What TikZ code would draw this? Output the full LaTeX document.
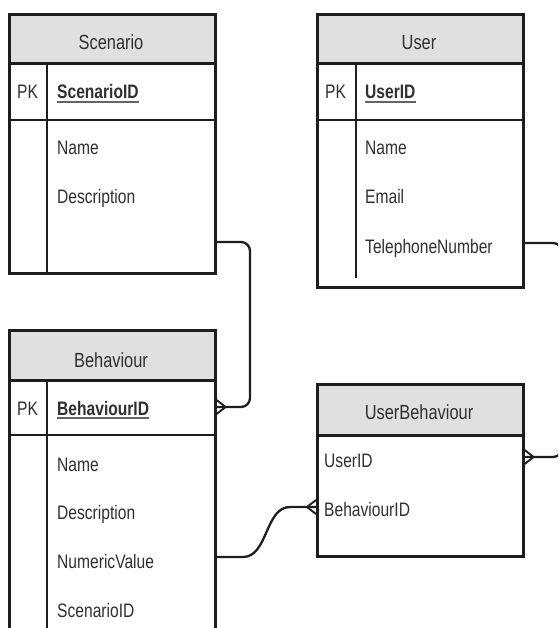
\documentclass[tikz,border=0pt]{standalone}
\usepackage{fontspec}
\setmainfont{Liberation Sans}[FakeStretch=0.8]
\usetikzlibrary{calc}
\definecolor{linec}{HTML}{1E1E1E}
\definecolor{hdrfill}{HTML}{E0E0E0}
\definecolor{txt}{HTML}{303030}
\tikzset{
  box/.style={draw=linec, line width=2.6pt, fill=white, anchor=north west, inner sep=0pt},
  hdrbox/.style={draw=linec, line width=2.6pt, fill=hdrfill, anchor=north west, inner sep=0pt},
  sep/.style={draw=linec, line width=1.7pt},
  title/.style={font=\fontsize{20.5}{23}\selectfont, text=txt, anchor=base, inner sep=0pt},
  fld/.style={font=\fontsize{19.5}{22}\selectfont, text=txt, anchor=base west, inner sep=0pt},
  keyfld/.style={font=\fontsize{19.5}{22}\selectfont\bfseries, text=txt, anchor=base west, inner sep=0pt},
  uline/.style={draw=txt!75, line width=1.2pt},
  conn/.style={draw=linec, line width=2.3pt},
  crow/.style={draw=linec, line width=1.9pt},
  crowR/.pic={\draw[crow] (9,0) -- (0,-7) (9,0) -- (0,7);},
  crowL/.pic={\draw[crow] (-9,0) -- (0,-7) (-9,0) -- (0,7);}
}
\begin{document}
\begin{tikzpicture}[x=1pt,y=-1pt]
\useasboundingbox (0,0) rectangle (558,628);
\clip (0,0) rectangle (558,628);

% ---------- Scenario ----------
\node[box, minimum width=206pt, minimum height=259pt] (scen) at (8,13) {};
\node[hdrbox, minimum width=206pt, minimum height=49pt] (scenH) at (8,13) {};
\draw[sep] (8,120) -- (214,120);
\draw[sep] (47,62) -- (47,272);
\node[title] (scenT) at (111,50) {Scenario};
\node[fld] (scenPK) at (17,99) {PK};
\node[keyfld] (scenID) at (57,99) {ScenarioID};
\draw[uline] ([yshift=-3pt]scenID.base west) -- ([yshift=-3pt]scenID.base east);
\node[fld] (scenName) at (57,155) {Name};
\node[fld] (scenDesc) at (57,204) {Description};

% ---------- User ----------
\node[box, minimum width=206pt, minimum height=273pt] (user) at (316,13) {};
\node[hdrbox, minimum width=206pt, minimum height=49pt] (userH) at (316,13) {};
\draw[sep] (316,120) -- (522,120);
\draw[sep] (356,62) -- (356,278);
\node[title] (userT) at (419,50) {User};
\node[fld] (userPK) at (325,99) {PK};
\node[keyfld] (userID) at (365,99) {UserID};
\draw[uline] ([yshift=-3pt]userID.base west) -- ([yshift=-3pt]userID.base east);
\node[fld] (userName) at (365,155) {Name};
\node[fld] (userEmail) at (365,204) {Email};
\node[fld] (userTel) at (365,253) {TelephoneNumber};

% ---------- Behaviour ----------
\node[box, minimum width=206pt, minimum height=340pt] (beh) at (8,329) {};
\node[hdrbox, minimum width=206pt, minimum height=50pt] (behH) at (8,329) {};
\draw[sep] (8,435) -- (214,435);
\draw[sep] (47,379) -- (47,669);
\node[title] (behT) at (111,367) {Behaviour};
\node[fld] (behPK) at (17,415) {PK};
\node[keyfld] (behID) at (57,415) {BehaviourID};
\draw[uline] ([yshift=-3pt]behID.base west) -- ([yshift=-3pt]behID.base east);
\node[fld] (behName) at (57,471) {Name};
\node[fld] (behDesc) at (57,519) {Description};
\node[fld] (behNum) at (57,568) {NumericValue};
\node[fld] (behScen) at (57,617) {ScenarioID};

% ---------- UserBehaviour ----------
\node[box, minimum width=206pt, minimum height=172pt] (ub) at (316,383) {};
\node[hdrbox, minimum width=206pt, minimum height=51pt] (ubH) at (316,383) {};
\node[title] (ubT) at (419,419) {UserBehaviour};
\node[fld] (ubUser) at (324,467) {UserID};
\node[fld] (ubBeh) at (324,516) {BehaviourID};

% ---------- connector end points ----------
\coordinate (sOut) at (scen.east |- 0,242);
\coordinate (bIn) at (beh.east |- 0,407);
\coordinate (nvOut) at (beh.east |- 0,557);
\coordinate (ubIn) at (ub.west |- 0,507);
\coordinate (uOut) at (user.east |- 0,243);
\coordinate (ubOut) at (ub.east |- 0,457);

% Scenario -> Behaviour
\draw[conn, rounded corners=9pt] (sOut) -- (250,242) -- (250,407) -- (bIn);
\pic at (bIn) {crowR};
% Behaviour -> UserBehaviour
\draw[conn] (nvOut) -- (243,557) .. controls (268,557) and (265,507) .. (290,507) -- (ubIn);
\pic at (ubIn) {crowL};
% User -> UserBehaviour
\draw[conn, rounded corners=9pt] (uOut) -- (562,243) -- (562,457) -- (ubOut);
\pic at (ubOut) {crowR};
\end{tikzpicture}
\end{document}
